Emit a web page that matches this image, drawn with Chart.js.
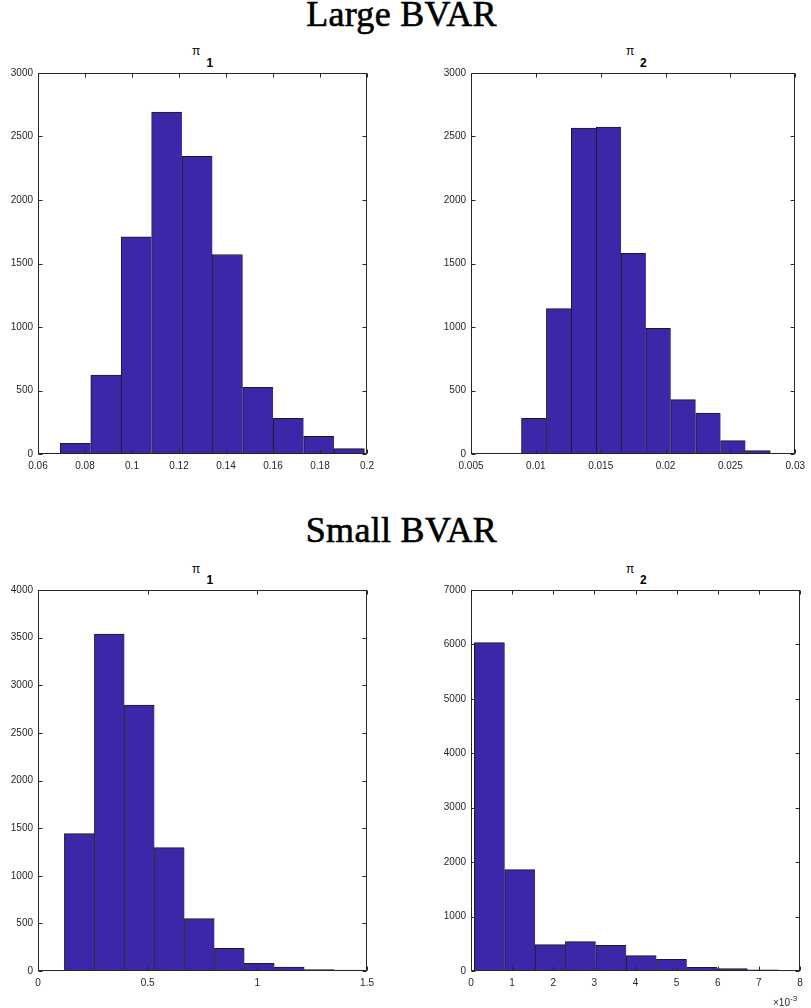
<!DOCTYPE html>
<html><head><meta charset="utf-8">
<script src="https://cdn.jsdelivr.net/npm/chart.js@4"></script>
<style>
body{margin:0;background:#fff;}
#wrap{position:relative;width:811px;height:1008px;overflow:hidden;font-family:"Liberation Sans",Arial,sans-serif;}
canvas{position:absolute;}
.main{position:absolute;left:-4px;width:811px;text-align:center;font-family:"Liberation Serif","Times New Roman",serif;font-weight:normal;font-size:36px;line-height:36px;letter-spacing:0.3px;color:#000;white-space:nowrap;-webkit-text-stroke:0.6px #000;}
.pi{position:absolute;font-size:12px;line-height:12px;color:#000;}
.sub{position:absolute;font-size:12px;line-height:12px;font-weight:bold;color:#000;}
.exp{position:absolute;font-size:10px;line-height:10px;color:#262626;white-space:nowrap;}
</style></head>
<body>
<div id="wrap">
  <div class="main" style="top:-3.6px">Large BVAR</div>
  <div class="main" style="top:511.8px">Small BVAR</div>

  <span class="pi" style="left:192px;top:44.8px">π</span><span class="sub" style="left:206.5px;top:56.5px">1</span>
  <span class="pi" style="left:626px;top:44.8px">π</span><span class="sub" style="left:640px;top:56.5px">2</span>
  <span class="pi" style="left:192px;top:562.5px">π</span><span class="sub" style="left:206.5px;top:574.2px">1</span>
  <span class="pi" style="left:626px;top:562.5px">π</span><span class="sub" style="left:640px;top:574.2px">2</span>

  <canvas id="tl" width="400" height="425" style="left:0;top:60px"></canvas>
  <canvas id="tr" width="391" height="425" style="left:420px;top:60px"></canvas>
  <canvas id="bl" width="400" height="425" style="left:0;top:577px"></canvas>
  <canvas id="br" width="391" height="425" style="left:420px;top:577px"></canvas>

  <div class="exp" style="left:773px;top:994px">×10<sup style="font-size:8px;vertical-align:5px">-3</sup></div>
</div>
<script>
// ---- Large BVAR, pi_1 ----
const tlEdges  = [0.0695, 0.0824, 0.0954, 0.1083, 0.1213, 0.1342, 0.1471, 0.1601, 0.1730, 0.1860, 0.1989];
const tlCounts = [84, 622, 1710, 2692, 2343, 1571, 525, 281, 139, 42];
const tlXTicks = [0.06, 0.08, 0.1, 0.12, 0.14, 0.16, 0.18, 0.2];
const tlXLabels = ['0.06', '0.08', '0.1', '0.12', '0.14', '0.16', '0.18', '0.2'];
const tlYTicks = [0, 500, 1000, 1500, 2000, 2500, 3000];

// ---- Large BVAR, pi_2 ----
const trEdges  = [0.00889, 0.01081, 0.01273, 0.01465, 0.01657, 0.01848, 0.02040, 0.02232, 0.02424, 0.02616, 0.02807];
const trCounts = [281, 1145, 2566, 2574, 1581, 990, 428, 323, 105, 26];
const trXTicks = [0.005, 0.01, 0.015, 0.02, 0.025, 0.03];
const trXLabels = ['0.005', '0.01', '0.015', '0.02', '0.025', '0.03'];
const trYTicks = [0, 500, 1000, 1500, 2000, 2500, 3000];

// ---- Small BVAR, pi_1 ----
const blEdges  = [0.1203, 0.2571, 0.3939, 0.5307, 0.6675, 0.8043, 0.9411, 1.0779, 1.2147, 1.3515, 1.4883];
const blCounts = [1443, 3538, 2792, 1296, 550, 238, 81, 42, 14, 10];
const blXTicks = [0, 0.5, 1, 1.5];
const blXLabels = ['0', '0.5', '1', '1.5'];
const blYTicks = [0, 500, 1000, 1500, 2000, 2500, 3000, 3500, 4000];

// ---- Small BVAR, pi_2 ----
const brEdges  = [0.000081, 0.000819, 0.001557, 0.002295, 0.003033, 0.003771, 0.004509, 0.005247, 0.005985, 0.006723, 0.007461];
const brCounts = [6032, 1863, 484, 539, 472, 282, 215, 67, 43, 20];
const brXTicks = [0, 0.001, 0.002, 0.003, 0.004, 0.005, 0.006, 0.007, 0.008];
const brXLabels = ['0', '1', '2', '3', '4', '5', '6', '7', '8'];
const brYTicks = [0, 1000, 2000, 3000, 4000, 5000, 6000, 7000];

const AX = '#262626';
const BAR = 'rgb(62,38,168)';
const EDGE = '#1a1a1a';

const boxTicks = {
  id: 'boxTicks',
  afterDraw(chart, args, opts) {
    const {ctx, chartArea: a} = chart;
    const xs = chart.scales.x, ys = chart.scales.y;
    const L = Math.round(a.left) + 0.5, R = Math.round(a.right) - 0.5;
    const T = Math.round(a.top) + 0.5, B = Math.round(a.bottom) - 0.5;
    const len = 4;
    ctx.save();
    ctx.strokeStyle = AX;
    ctx.lineWidth = 1;
    ctx.beginPath();
    opts.xTicks.forEach(v => {
      const p = Math.round(xs.getPixelForValue(v)) + 0.5;
      ctx.moveTo(p, B); ctx.lineTo(p, B - len);
      ctx.moveTo(p, T); ctx.lineTo(p, T + len);
    });
    opts.yTicks.forEach(v => {
      const p = Math.round(ys.getPixelForValue(v)) + 0.5;
      ctx.moveTo(L, p); ctx.lineTo(L + len, p);
      ctx.moveTo(R, p); ctx.lineTo(R - len, p);
    });
    ctx.stroke();
    ctx.strokeRect(L, T, R - L, B - T);
    ctx.restore();
  }
};

function makeHist(id, edges, counts, xMin, xMax, xTicks, xLabels, yMax, yTicks, yW, xH, padTop, padRight) {
  const data = counts.map((c, i) => ({x: (edges[i] + edges[i + 1]) / 2, y: c}));
  const n = counts.length;
  const tickFont = {family: '"Liberation Sans", Arial, sans-serif', size: 10};
  new Chart(document.getElementById(id), {
    type: 'bar',
    data: {datasets: [{
      data,
      backgroundColor: BAR,
      borderColor: EDGE,
      borderSkipped: false,
      borderWidth: ctx => ({top: 1, left: 1, bottom: 0, right: ctx.dataIndex === n - 1 ? 1 : 0}),
      barPercentage: 1,
      categoryPercentage: 1
    }]},
    options: {
      responsive: false,
      animation: false,
      devicePixelRatio: 1,
      layout: {padding: {top: padTop, right: padRight, left: 0, bottom: 0}},
      plugins: {legend: {display: false}, tooltip: {enabled: false}, title: {display: false},
        boxTicks: {xTicks, yTicks}},
      scales: {
        x: {
          type: 'linear', min: xMin, max: xMax, offset: false,
          grid: {display: false, offset: false, drawTicks: false},
          border: {display: false},
          ticks: {autoSkip: false, maxRotation: 0, minRotation: 0, padding: 6, color: AX, font: tickFont,
            callback: (v, i) => xLabels[i]},
          afterBuildTicks: s => { s.ticks = xTicks.map(v => ({value: v})); },
          afterFit: s => { s.height = xH; }
        },
        y: {
          type: 'linear', min: 0, max: yMax,
          grid: {display: false, drawTicks: false},
          border: {display: false},
          ticks: {autoSkip: false, padding: 5, color: AX, font: tickFont,
            callback: v => String(v)},
          afterBuildTicks: s => { s.ticks = yTicks.map(v => ({value: v})); },
          afterFit: s => { s.width = yW; }
        }
      }
    },
    plugins: [boxTicks]
  });
}

makeHist('tl', tlEdges, tlCounts, 0.06, 0.2, tlXTicks, tlXLabels, 3000, tlYTicks, 38, 31, 13, 33);
makeHist('tr', trEdges, trCounts, 0.005, 0.03, trXTicks, trXLabels, 3000, trYTicks, 51, 31, 13, 11);
makeHist('bl', blEdges, blCounts, 0, 1.5, blXTicks, blXLabels, 4000, blYTicks, 38, 31, 13, 33);
makeHist('br', brEdges, brCounts, 0, 0.008, brXTicks, brXLabels, 7000, brYTicks, 51, 31, 13, 11);
</script>
</body></html>
